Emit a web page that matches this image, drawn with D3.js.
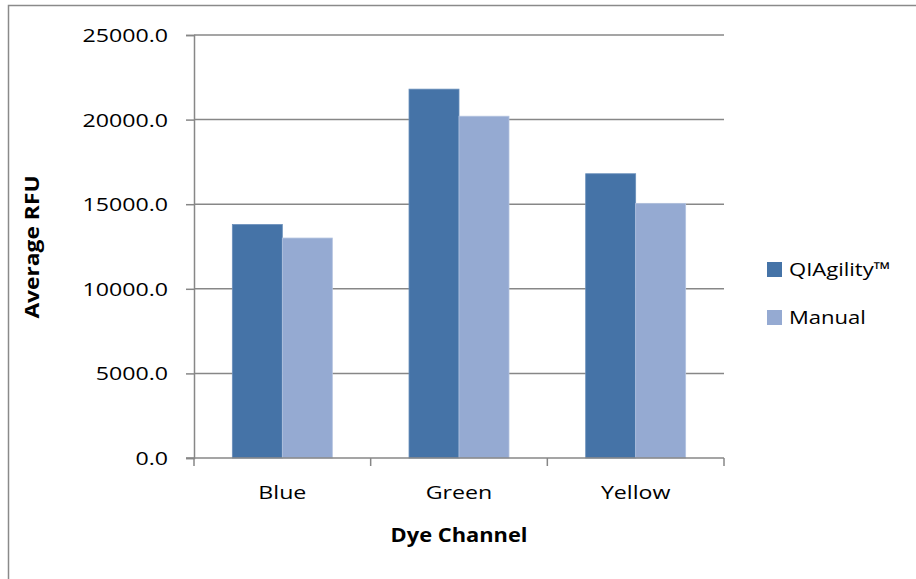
<!DOCTYPE html>
<html>
<head>
<meta charset="utf-8">
<script src="https://cdn.jsdelivr.net/npm/d3@7"></script>
<style>
  html, body { margin: 0; padding: 0; background: #fff; }
  svg { display: block; }
  text { font-family: "Open Sans", sans-serif; fill: #000; }
</style>
</head>
<body>
<svg id="chart" width="916" height="579"></svg>
<script>
// Average RFU per dye channel, QIAgility vs manual setup
const categories = ["Blue", "Green", "Yellow"];
const seriesNames = ["QIAgility™", "Manual"];
const qiagilityValues = [13800, 21800, 16800];
const manualValues = [13000, 20200, 15050];
const yTicks = [0, 5000, 10000, 15000, 20000, 25000];
const colors = ["#4573a7", "#95aad2"];

const svg = d3.select("#chart");
const plot = { left: 194, right: 724, top: 35, bottom: 458 };
const SX = 1.22; // horizontal text stretch
const FS = 19;

// outer frame
svg.append("rect")
  .attr("x", 8.5).attr("y", 5.5)
  .attr("width", 1000).attr("height", 1000)
  .attr("fill", "#fff").attr("stroke", "#8a8a8a").attr("stroke-width", 1.5);

const x0 = d3.scaleBand().domain(categories).range([plot.left, plot.right]).padding(0);
const groupFrac = 100 / 176.7;
const x1 = d3.scaleBand().domain(seriesNames)
  .range([0, x0.bandwidth() * groupFrac]).padding(0);
const y = d3.scaleLinear().domain([0, 25000]).range([plot.bottom, plot.top]);

function stretchedText(parent, x, yPos, str, opts) {
  const g = parent.append("g").attr("transform", `translate(${x},${yPos}) scale(${opts.sx || SX},1)`);
  g.append("text").text(str)
    .attr("font-size", opts.size)
    .attr("text-anchor", opts.anchor || "start")
    .attr("font-weight", opts.weight || "normal");
  return g;
}

// gridlines
svg.append("g").selectAll("line").data(yTicks.slice(1)).join("line")
  .attr("x1", plot.left).attr("x2", plot.right)
  .attr("y1", d => y(d)).attr("y2", d => y(d))
  .attr("stroke", "#878787").attr("stroke-width", 1.5);

// y axis
const yAxis = svg.append("g").attr("transform", `translate(${plot.left},0)`)
  .call(d3.axisLeft(y).tickValues(yTicks).tickSize(8).tickFormat(""));
yAxis.select(".domain").attr("stroke", "#878787").attr("stroke-width", 1.5);
yAxis.selectAll(".tick line").attr("stroke", "#878787").attr("stroke-width", 1.5);

yTicks.forEach(v => {
  stretchedText(svg, 168, y(v) + 7, d3.format(".1f")(v), { size: FS, anchor: "end" });
});

// bars
const groups = svg.append("g").selectAll("g").data(categories).join("g")
  .attr("transform", d => `translate(${x0(d) + (x0.bandwidth() - x1.range()[1]) / 2},0)`);
groups.selectAll("rect")
  .data((d, i) => [qiagilityValues[i], manualValues[i]].map((v, k) => ({ v, k })))
  .join("rect")
  .attr("x", d => x1(seriesNames[d.k]))
  .attr("width", x1.bandwidth())
  .attr("y", d => y(d.v))
  .attr("height", d => y(0) - y(d.v))
  .attr("fill", d => colors[d.k])
  .attr("stroke", d => d.k === 0 ? "#6a8fbb" : "#b3c3e0")
  .attr("stroke-width", 0.8);

// x axis
const xAxis = svg.append("g").attr("transform", `translate(0,${plot.bottom})`);
xAxis.append("line")
  .attr("x1", plot.left - 8).attr("x2", plot.right)
  .attr("stroke", "#878787").attr("stroke-width", 1.5);
const boundaries = categories.map(c => x0(c)).concat([plot.right]);
xAxis.selectAll("line.tk").data(boundaries).join("line").attr("class", "tk")
  .attr("x1", d => d).attr("x2", d => d).attr("y1", 0).attr("y2", 8)
  .attr("stroke", "#878787").attr("stroke-width", 1.5);

categories.forEach(c => {
  stretchedText(svg, x0(c) + x0.bandwidth() / 2, 499, c, { size: FS, anchor: "middle" });
});

// axis titles
stretchedText(svg, 459, 542, "Dye Channel", { size: 19, anchor: "middle", weight: "bold", sx: 1.15 });
svg.append("g").attr("transform", "translate(39,247) rotate(-90) scale(1.2,1)")
  .append("text").text("Average RFU")
  .attr("font-size", 19).attr("font-weight", "bold").attr("text-anchor", "middle");

// legend
const legend = svg.append("g");
seriesNames.forEach((name, i) => {
  const ly = 262 + i * 48;
  legend.append("rect").attr("x", 767).attr("y", ly).attr("width", 15).attr("height", 15)
    .attr("fill", colors[i]);
  stretchedText(legend, 789, ly + 14, name, { size: FS, anchor: "start", sx: 1.16 });
});
</script>
</body>
</html>
